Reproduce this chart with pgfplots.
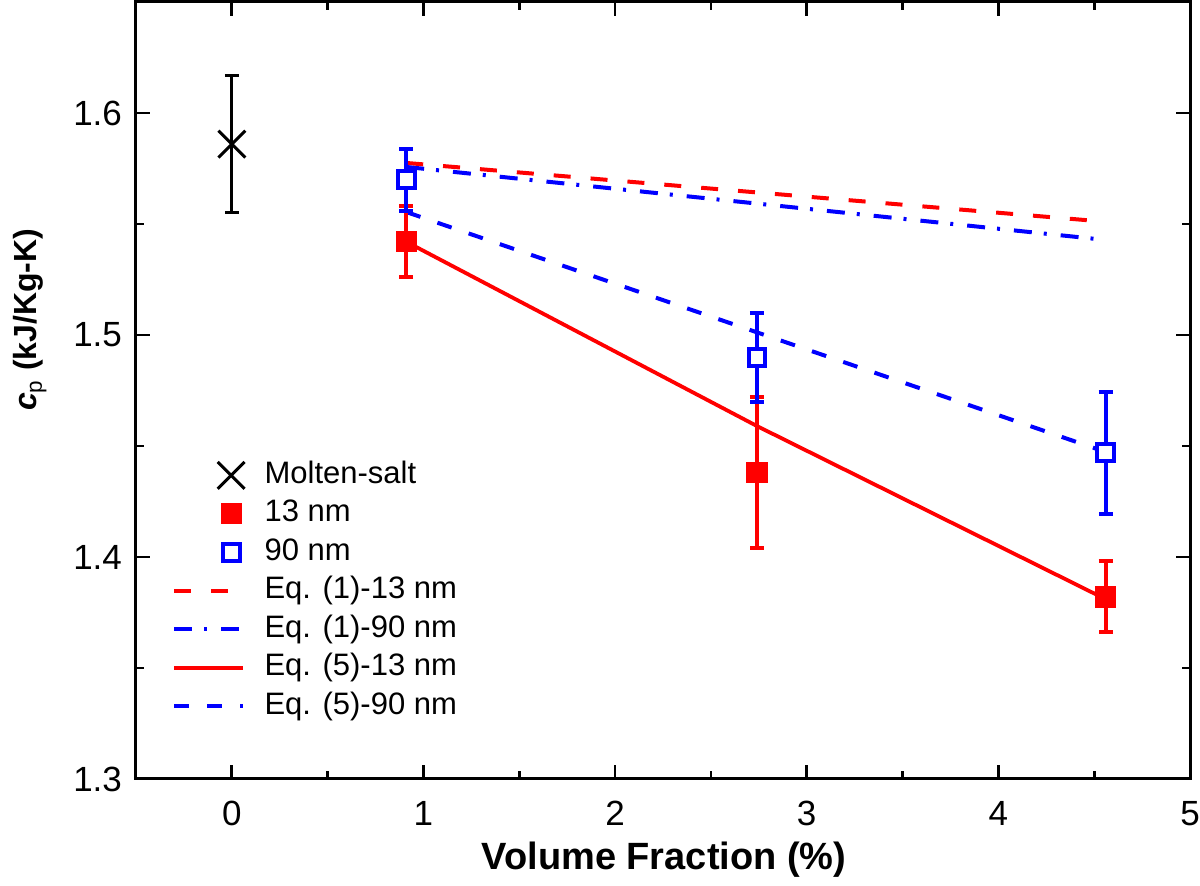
\documentclass[border=0pt]{standalone}
\usepackage{fontspec}
\setmainfont{Liberation Sans}
\usepackage{pgfplots}
\pgfplotsset{compat=1.18}
\definecolor{myred}{RGB}{255,0,0}
\definecolor{myblue}{RGB}{0,0,255}
\pgfplotsset{markleg/.style={legend image code/.code={\draw[##1] plot coordinates {(1.0cm,0cm)};}}}
\begin{document}
\begin{tikzpicture}
\useasboundingbox (-68pt,-53.5pt) rectangle (532pt,389.5pt);
\begin{axis}[
  scale only axis, width=527pt, height=388.5pt,
  at={(0,0)}, anchor=south west,
  xmin=-0.5, xmax=5, ymin=1.3, ymax=1.65,
  xtick={0,1,2,3,4,5}, xticklabels={0,1,2,3,4,5},
  ytick={1.3,1.4,1.5,1.6}, yticklabels={1.3,1.4,1.5,1.6},
  minor xtick={0.5,1.5,2.5,3.5,4.5}, minor ytick={1.35,1.45,1.55},
  tick align=inside, tick pos=both,
  major tick length=7pt, minor tick length=4pt,
  every tick/.style={black, line width=1.4pt},
  axis line style={line width=1.5pt},
  ticklabel style={font=\fontsize{17.5}{21}\selectfont},
  xticklabel style={yshift=-7.5pt},
  yticklabel style={xshift=-3.5pt},
  xlabel={\bfseries Volume Fraction (\%)},
  xlabel style={font=\fontsize{19}{22}\selectfont, at={(axis description cs:0.501,0)}, anchor=center, yshift=-40.5pt},
  ylabel={\textbf{\textit{c}}\textsubscript{p} \textbf{(kJ/Kg-K)}},
  ylabel style={font=\fontsize{16}{19}\selectfont, at={(axis description cs:-0.1006,0.591)}, anchor=center},
  legend image code/.code={\draw[mark repeat=2,mark phase=2,#1] plot coordinates {(0cm,0cm) (0.6cm,0cm) (1.2cm,0cm)};},
  legend style={at={(rel axis cs:0.034,0.412)}, anchor=north west, draw=none, fill=none,
    inner sep=0pt, row sep=3.25pt, column sep=10pt,
    font=\fontsize{15.5}{18}\selectfont,
    nodes={inner sep=0pt, text height=12pt, text depth=4pt}},
  legend cell align=left,
]
% legend entries
\addlegendimage{markleg, only marks, mark=x, black, mark size=9.5pt, line width=1.5pt}
\addlegendentry{Molten-salt}
\addlegendimage{markleg, only marks, mark=square*, myred, mark size=4.8pt, line width=1pt}
\addlegendentry{13 nm}
\addlegendimage{markleg, only marks, mark=square, myblue, mark size=4.2pt, line width=2pt}
\addlegendentry{90 nm}
\addlegendimage{myred, line width=2pt, dash pattern=on 8.5pt off 10pt}
\addlegendentry{Eq. (1)-13 nm}
\addlegendimage{myblue, line width=2pt, dash pattern=on 9pt off 6pt on 1.5pt off 7pt}
\addlegendentry{Eq. (1)-90 nm}
\addlegendimage{myred, line width=1.9pt}
\addlegendentry{Eq. (5)-13 nm}
\addlegendimage{myblue, line width=2pt, dash pattern=on 7.5pt off 9pt}
\addlegendentry{Eq. (5)-90 nm}

% model lines
\addplot[forget plot, myred, line width=2pt, dash pattern=on 8.5pt off 10pt] coordinates {(0.91,1.5775) (4.56,1.551)};
\addplot[forget plot, myblue, line width=2pt, dash pattern=on 9pt off 6pt on 1.5pt off 7pt] coordinates {(0.91,1.5757) (4.56,1.5428)};
\addplot[forget plot, myred, line width=1.9pt] coordinates {(0.91,1.542) (2.74,1.459) (4.56,1.381)};
\addplot[forget plot, myblue, line width=2pt, dash pattern=on 7.5pt off 9pt] coordinates {(0.91,1.5554) (4.56,1.4473)};

% data with error bars
\addplot[forget plot, only marks, mark=x, black, mark size=9.5pt, line width=1.5pt,
  error bars/.cd, y dir=both, y explicit,
  error bar style={line width=1.5pt, black},
  error mark options={rotate=90, mark size=3.5pt, line width=1.5pt, black}]
  coordinates {(0,1.586) +- (0,0.031)};
\addplot[forget plot, only marks, mark=square*, myred, mark size=4.8pt, line width=1pt,
  error bars/.cd, y dir=both, y explicit,
  error bar style={line width=2pt, myred},
  error mark options={rotate=90, mark size=3.5pt, line width=2pt, myred}]
  coordinates {(0.91,1.542) +- (0,0.016) (2.74,1.438) +- (0,0.034) (4.56,1.382) +- (0,0.016)};
\addplot[forget plot, only marks, mark=square*, mark options={fill=white, draw=myblue}, myblue, mark size=4.2pt, line width=2pt,
  error bars/.cd, y dir=both, y explicit,
  error bar style={line width=2pt, myblue},
  error mark options={rotate=90, mark size=3.5pt, line width=2pt, myblue}]
  coordinates {(0.91,1.570) +- (0,0.014) (2.74,1.490) +- (0,0.020) (4.56,1.447) +- (0,0.0275)};
\end{axis}
\end{tikzpicture}
\end{document}
